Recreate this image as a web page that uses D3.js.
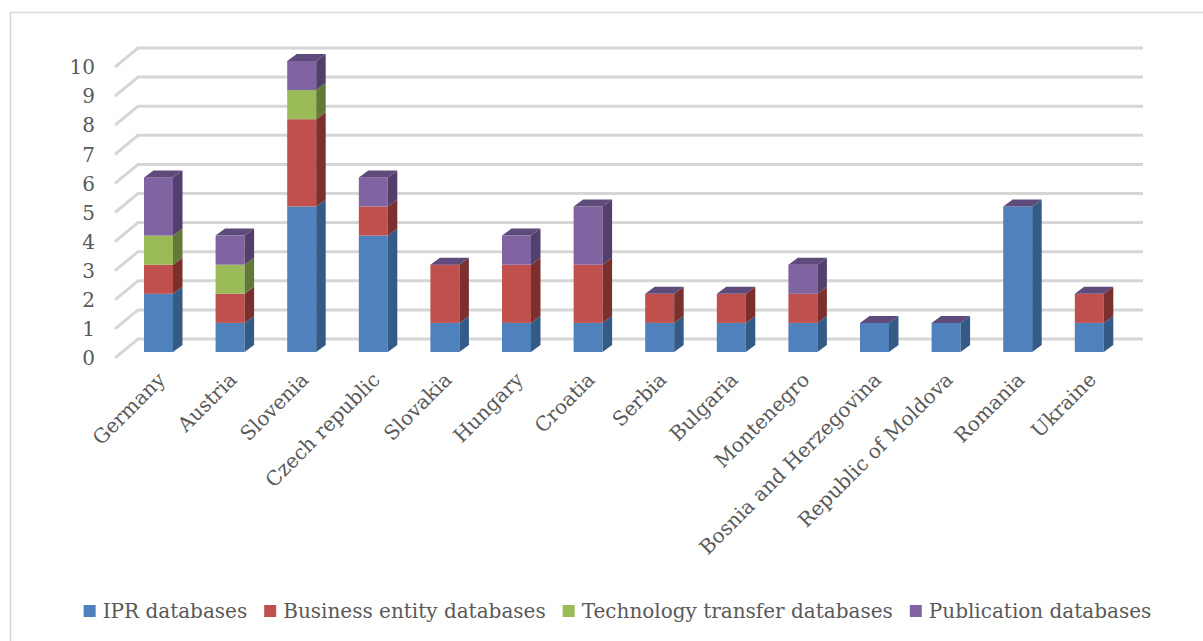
<!DOCTYPE html>
<html><head><meta charset="utf-8">
<script src="https://cdn.jsdelivr.net/npm/d3@7"></script>
<style>html,body{margin:0;padding:0;background:#fff;}svg{display:block;}</style>
</head><body>
<svg id="chart" width="1203" height="641"></svg>
<script>
const categories = ["Germany","Austria","Slovenia","Czech republic","Slovakia","Hungary","Croatia","Serbia","Bulgaria","Montenegro","Bosnia and Herzegovina","Republic of Moldova","Romania","Ukraine"];
const seriesNames = ["IPR databases","Business entity databases","Technology transfer databases","Publication databases"];
const iprValues         = [2,1,5,4,1,1,1,1,1,1,1,1,5,1];
const businessValues    = [1,1,3,1,2,2,2,1,1,1,0,0,0,1];
const techTransferValues= [1,1,1,0,0,0,0,0,0,0,0,0,0,0];
const publicationValues = [2,1,1,1,0,1,2,0,0,1,0,0,0,0];
const yTicks = [0,1,2,3,4,5,6,7,8,9,10];

const frontColors = ["#4f81bd","#c0504d","#9bbb59","#8064a2"];
const sideColors  = ["#345a86","#7b302e","#637a37","#533f6c"];
const topColor = "#5f4a7c";
const textColor = "#595959";
const font = "DejaVu Serif";

const svg = d3.select("#chart");
svg.append("rect").attr("x",10.5).attr("y",12.5).attr("width",1300).attr("height",700)
  .attr("fill","none").attr("stroke","#d9d9d9").attr("stroke-width",1.5);

// value scale (height in px)
const h = d3.scaleLinear().domain([0,10]).range([0,291]);
const frontBase = 358, backBase = 339, barBase = 352;
const wallLeft = 115, wallBack = 138, gridRight = 1143;

// gridlines
const g = svg.append("g");
yTicks.forEach(t => {
  g.append("polyline")
    .attr("points", `${wallLeft},${frontBase - h(t)} ${wallBack},${backBase - h(t)} ${gridRight},${backBase - h(t)}`)
    .attr("fill","none").attr("stroke","#d6d6d6").attr("stroke-width",3);
});
// y labels
yTicks.forEach(t => {
  svg.append("text").attr("x",95).attr("y",frontBase - h(t)).attr("dy","0.36em")
    .attr("text-anchor","end").attr("font-family",font).attr("font-size",20)
    .attr("fill",textColor).text(t);
});

const x = d3.scaleBand().domain(categories).range([122.7,1125.1]).padding(0);
const barW = 29, dx = 9.5, dy = 7;
const stacks = categories.map((c,i) => [iprValues[i],businessValues[i],techTransferValues[i],publicationValues[i]]);

categories.forEach((c,i) => {
  const cx = x(c) + x.bandwidth()/2;
  const x0 = cx - barW/2;
  let cum = 0;
  let topY = null;
  stacks[i].forEach((v,s) => {
    if (v <= 0) return;
    const yb = barBase - h(cum), yt = barBase - h(cum+v);
    svg.append("rect").attr("x",x0).attr("y",yt).attr("width",barW).attr("height",yb-yt).attr("fill",frontColors[s]);
    svg.append("polygon").attr("points",`${x0+barW},${yt} ${x0+barW+dx},${yt-dy} ${x0+barW+dx},${yb-dy} ${x0+barW},${yb}`).attr("fill",sideColors[s]);
    cum += v; topY = yt;
  });
  if (topY !== null) {
    svg.append("polygon").attr("points",`${x0},${topY} ${x0+dx},${topY-dy} ${x0+barW+dx},${topY-dy} ${x0+barW},${topY}`).attr("fill",topColor);
  }
  svg.append("text").attr("transform",`translate(${cx+3},${376}) rotate(-45)`)
    .attr("text-anchor","end").attr("dy","0.35em").attr("font-family",font).attr("font-size",20)
    .attr("fill",textColor).text(c);
});

// legend
const leg = svg.append("g");
let items = [];
let cur = 0;
seriesNames.forEach((n,s) => {
  const it = leg.append("g");
  it.append("rect").attr("x",cur).attr("y",605).attr("width",12).attr("height",12).attr("fill",frontColors[s]);
  const t = it.append("text").attr("x",cur+19).attr("y",618).attr("font-family",font).attr("font-size",20).attr("fill",textColor).text(n);
  cur += 19 + t.node().getComputedTextLength() + 17;
});
const total = cur - 17;
leg.attr("transform",`translate(${(87+1148)/2 - total/2},0)`);
</script>
</body></html>
